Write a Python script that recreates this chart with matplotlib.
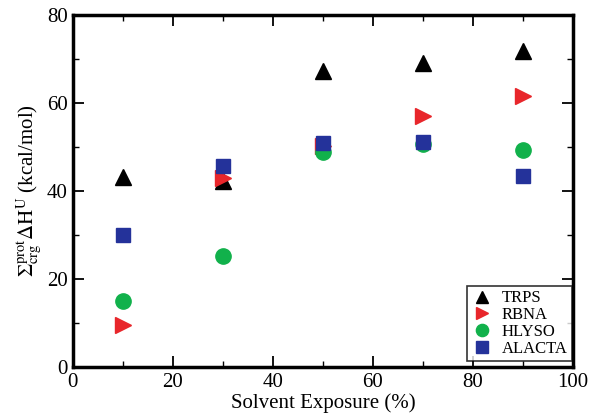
import matplotlib
matplotlib.use("Agg")
import matplotlib.pyplot as plt
from matplotlib.ticker import MultipleLocator

plt.rcParams['font.family'] = ['Liberation Serif', 'DejaVu Serif']
plt.rcParams['mathtext.fontset'] = 'stix'

exposure = [10, 30, 50, 70, 90]
trps = [43.2, 42.3, 67.2, 69.0, 71.8]
rbna = [9.5, 43.0, 50.2, 57.0, 61.5]
hlyso = [15.0, 25.3, 48.9, 50.8, 49.3]
alacta = [30.0, 45.7, 50.9, 51.2, 43.5]

fig = plt.figure(figsize=(6.02, 4.18), dpi=100)
ax = fig.add_axes([0.121, 0.122, 0.831, 0.842])

ax.plot(exposure, trps, linestyle='none', marker='^', color='black', markersize=11, label='TRPS')
ax.plot(exposure, rbna, linestyle='none', marker='>', color='#e8262b', markersize=11, label='RBNA')
ax.plot(exposure, hlyso, linestyle='none', marker='o', color='#11b14b', markersize=11, label='HLYSO')
ax.plot(exposure, alacta, linestyle='none', marker='s', color='#24329a', markersize=10, label='ALACTA')

ax.set_xlim(0, 100)
ax.set_ylim(0, 80)
ax.xaxis.set_major_locator(MultipleLocator(20))
ax.xaxis.set_minor_locator(MultipleLocator(10))
ax.yaxis.set_major_locator(MultipleLocator(20))
ax.yaxis.set_minor_locator(MultipleLocator(10))
ax.tick_params(which='both', direction='in', top=True, right=True, labelsize=15, color='black')
ax.tick_params(which='major', length=8, width=1.3)
ax.tick_params(which='minor', length=4, width=1.0)
ax.tick_params(axis='x', pad=4)
for s in ax.spines.values():
    s.set_linewidth(2.5)

ax.set_xlabel('Solvent Exposure (%)', fontsize=15, labelpad=1)
ax.set_ylabel(r'$\Sigma^{\rm prot}_{\rm crg}\Delta\mathrm{H}^{\rm U}$ (kcal/mol)', fontsize=15, labelpad=2)

leg = ax.legend(loc='lower right', fontsize=12, frameon=True, fancybox=False,
                edgecolor='black', handletextpad=0.6, borderpad=0.25, labelspacing=0.05,
                handlelength=1.2, markerscale=0.8,
                bbox_to_anchor=(0.997, 0.017), borderaxespad=0.0)
leg.get_frame().set_linewidth(1.2)

fig.savefig('out.png', dpi=100)
